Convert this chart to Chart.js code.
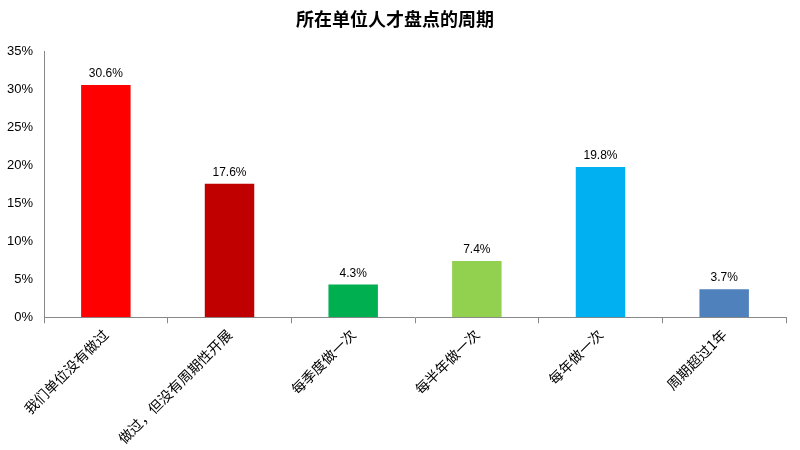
<!DOCTYPE html>
<html><head><meta charset="utf-8">
<script src="https://cdn.jsdelivr.net/npm/chart.js@4"></script>
<style>body{margin:0;background:#fff}#w{width:800px;height:450px}</style>
</head><body><div id="w"><canvas id="c"></canvas></div>
<script>
const categories = ["我们单位没有做过", "做过，但没有周期性开展", "每季度做一次", "每半年做一次", "每年做一次", "周期超过1年"];
const values = [30.6, 17.6, 4.3, 7.4, 19.8, 3.7];
const colors = ["#FF0000", "#C00000", "#00B050", "#92D050", "#00B0F0", "#4F81BD"];

const labelPlugin = {
  id: "labels",
  afterDatasetsDraw(chart) {
    const ctx = chart.ctx;
    ctx.save();
    ctx.font = "12px 'Liberation Sans', Arial";
    ctx.fillStyle = "#000";
    ctx.textAlign = "center";
    chart.getDatasetMeta(0).data.forEach((bar, i) => {
      ctx.fillText(values[i].toFixed(1) + "%", bar.x, bar.y - 8);
    });
    ctx.restore();
  }
};

new Chart(document.getElementById("c"), {
  type: "bar",
  data: { labels: categories, datasets: [{ data: values, backgroundColor: colors, barPercentage: 0.4, categoryPercentage: 1 }] },
  plugins: [labelPlugin],
  options: {
    responsive: true, maintainAspectRatio: false, animation: false,
    layout: { padding: { left: 4, right: 14, top: 2, bottom: 0 } },
    plugins: {
      legend: { display: false }, tooltip: { enabled: false },
      title: { display: true, text: "所在单位人才盘点的周期", color: "#000",
        font: { family: "'Noto Sans CJK SC'", size: 18, weight: "bold" }, padding: { top: 6, bottom: 22 } }
    },
    scales: {
      y: { min: 0, max: 35, ticks: { stepSize: 5, callback: v => v + "%", color: "#000", font: { family: "'Liberation Sans'", size: 13 } },
        grid: { display: false }, border: { color: "#888" } },
      x: { offset: true, ticks: { maxRotation: 45, minRotation: 45, color: "#000", font: { family: "'Noto Sans CJK SC'", size: 14 } },
        grid: { display: true, drawOnChartArea: false, offset: true, tickLength: 6, color: "#888" }, border: { color: "#888" } }
    }
  }
});
</script></body></html>
